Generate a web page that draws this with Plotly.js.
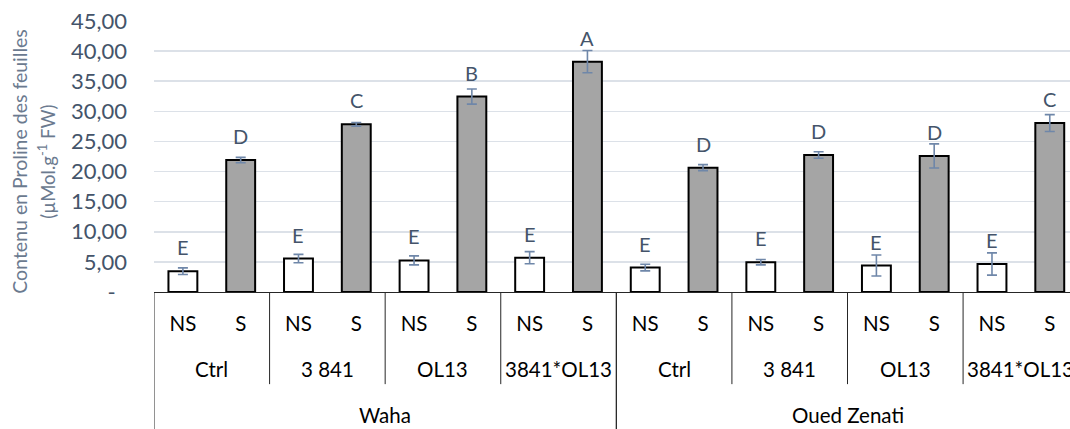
<!DOCTYPE html>
<html>
<head>
<meta charset="utf-8">
<script src="https://cdn.plot.ly/plotly-3.0.1.min.js"></script>
<style>
  html, body { margin: 0; padding: 0; overflow: hidden; background: #fff; }
  #chart { width: 1070px; height: 429px; }
</style>
</head>
<body>
<div id="chart"></div>
<script>
// Leaf proline content by variety, genotype and treatment
const varieties = ['Waha', 'Oued Zenati'];
const genotypes = ['Ctrl', '3 841', 'OL13', '3841*OL13'];
const treatments = ['NS', 'S'];

// Means and error values, ordered Waha (4 genotypes) then Oued Zenati (4 genotypes)
const nsMean = [3.45, 5.55, 5.25, 5.7, 4.05, 4.95, 4.4, 4.65];
const nsErr  = [0.55, 0.7, 0.75, 1.0, 0.55, 0.45, 1.75, 1.85];
const sMean  = [21.9, 27.85, 32.45, 38.25, 20.65, 22.75, 22.6, 28.05];
const sErr   = [0.45, 0.3, 1.25, 1.85, 0.5, 0.55, 2.0, 1.4];

// Significance groups
const nsLetters = ['E', 'E', 'E', 'E', 'E', 'E', 'E', 'E'];
const sLetters  = ['D', 'C', 'B', 'A', 'D', 'D', 'D', 'C'];

const yTickVals = [0, 5, 10, 15, 20, 25, 30, 35, 40, 45];

const FONT = 'Lato, "Open Sans", sans-serif';
const slate = '#44546A';
const CAT_SIZE = 20.5;

const nGroups = varieties.length * genotypes.length;
const groupIdx = Array.from({length: nGroups}, (_, i) => i);
const nsX = groupIdx.map(i => i * 2);
const sX = groupIdx.map(i => i * 2 + 1);

const errStyle = (arr) => ({
  type: 'data', array: arr, visible: true,
  color: '#6F87A9', thickness: 1.6, width: 5
});

const traces = [
  {
    type: 'bar', name: treatments[0], x: nsX, y: nsMean, width: 0.5,
    marker: {color: '#FFFFFF', line: {color: '#000000', width: 2}},
    error_y: errStyle(nsErr), hoverinfo: 'y'
  },
  {
    type: 'bar', name: treatments[1], x: sX, y: sMean, width: 0.5,
    marker: {color: '#A5A5A5', line: {color: '#000000', width: 2}},
    error_y: errStyle(sErr), hoverinfo: 'y'
  }
];

// Bottom edge of the category table in paper units
const yBottom = -0.53;
const yGenoLine = -0.34;

const shapes = [];
const lineStyle = {color: '#262626', width: 1};
// genotype dividers (short) and variety dividers (full depth)
for (let v = 0; v < varieties.length; v++) {
  for (let g = 0; g <= genotypes.length; g++) {
    const xPos = (v * genotypes.length + g) * 2 - 0.5;
    const full = (g === 0 || g === genotypes.length);
    shapes.push({
      type: 'line', xref: 'x', yref: 'paper',
      x0: xPos, x1: xPos, y0: 0, y1: full ? yBottom : yGenoLine,
      line: lineStyle
    });
  }
}

const annotations = [];
// significance letters above each bar
const letterFont = {family: FONT, size: 20, color: slate};
nsMean.forEach((m, i) => annotations.push({
  x: nsX[i], y: m, xref: 'x', yref: 'y', text: nsLetters[i], showarrow: false,
  yanchor: 'bottom', yshift: 10, font: letterFont
}));
sMean.forEach((m, i) => annotations.push({
  x: sX[i], y: m, xref: 'x', yref: 'y', text: sLetters[i], showarrow: false,
  yanchor: 'bottom', yshift: 10, font: letterFont
}));
// genotype row
for (let v = 0; v < varieties.length; v++) {
  genotypes.forEach((gName, g) => annotations.push({
    x: (v * genotypes.length + g) * 2 + 0.5, y: -0.285, xref: 'x', yref: 'paper',
    text: gName, showarrow: false, xanchor: 'center', yanchor: 'middle',
    font: {family: FONT, size: CAT_SIZE, color: '#000000'}
  }));
  // variety row
  annotations.push({
    x: v * genotypes.length * 2 + genotypes.length - 0.5, y: -0.455,
    xref: 'x', yref: 'paper', text: varieties[v], showarrow: false,
    xanchor: 'center', yanchor: 'middle',
    font: {family: FONT, size: CAT_SIZE, color: '#000000'}
  });
}
// y-axis title, two lines
const yTitleColor = '#6B7A8F';
annotations.push({
  x: -0.1465, y: 0.48, xref: 'paper', yref: 'paper', textangle: -90,
  text: 'Contenu en Proline des feuilles', showarrow: false,
  xanchor: 'center', yanchor: 'middle',
  font: {family: FONT, size: 19.5, color: yTitleColor}
});
annotations.push({
  x: -0.117, y: 0.48, xref: 'paper', yref: 'paper', textangle: -90,
  text: '(µMol.g<sup>-1</sup> FW)', showarrow: false,
  xanchor: 'center', yanchor: 'middle',
  font: {family: FONT, size: 18.5, color: yTitleColor}
});

const layout = {
  width: 1070, height: 429,
  margin: {l: 154, r: 0, t: 21, b: 137},
  paper_bgcolor: '#FFFFFF', plot_bgcolor: '#FFFFFF',
  barmode: 'overlay', showlegend: false,
  xaxis: {
    type: 'linear', range: [-0.5, 15.35], fixedrange: true,
    tickvals: [...nsX, ...sX],
    ticktext: [...nsX.map(() => treatments[0]), ...sX.map(() => treatments[1])],
    ticks: '', showgrid: false, zeroline: false,
    showline: true, linecolor: '#262626', linewidth: 1,
    ticklabelstandoff: 13,
    tickfont: {family: FONT, size: CAT_SIZE, color: '#000000'}
  },
  yaxis: {
    range: [0, 45], fixedrange: true,
    tickvals: yTickVals,
    ticktext: yTickVals.map(v => v === 0 ? '-\u00a0\u00a0' : v.toFixed(2).replace('.', ',')),
    ticks: '', showline: false, zeroline: false,
    showgrid: true, gridcolor: '#DCE1E8', gridwidth: 1.5,
    ticklabelstandoff: 26,
    tickfont: {family: FONT, size: 22, color: slate}
  },
  shapes: shapes,
  annotations: annotations
};

Plotly.newPlot('chart', traces, layout, {displayModeBar: false, staticPlot: true});
</script>
</body>
</html>
